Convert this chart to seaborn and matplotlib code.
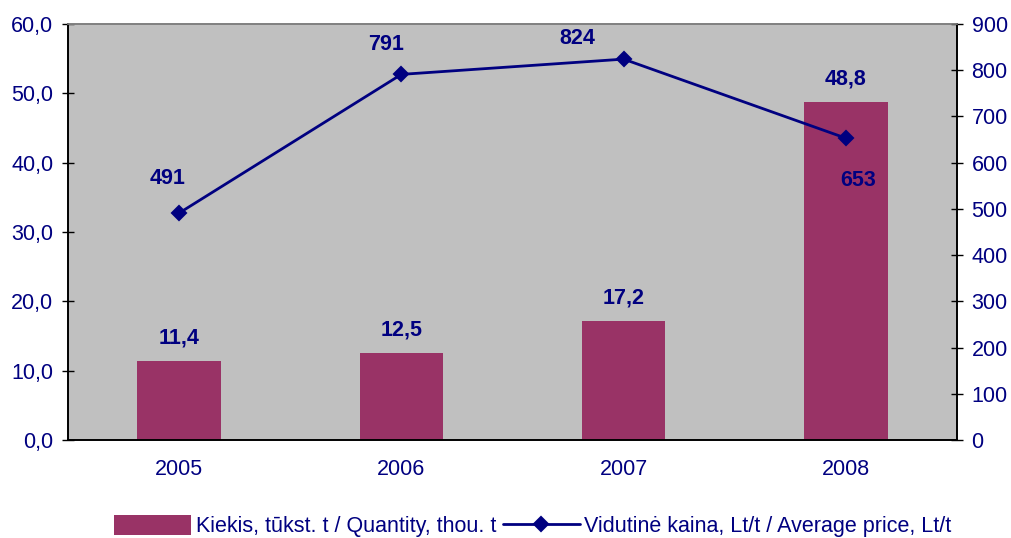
import matplotlib
matplotlib.use("Agg")
import matplotlib.pyplot as plt
import pandas as pd
import seaborn as sns
from matplotlib.ticker import FuncFormatter, MultipleLocator

# ---------- data ----------
years    = ["2005", "2006", "2007", "2008"]
quantity = [11.4, 12.5, 17.2, 48.8]      # thou. t
price    = [491, 791, 824, 653]          # Lt/t

qty_label   = "Kiekis, tūkst. t / Quantity, thou. t"
price_label = "Vidutinė kaina, Lt/t / Average price, Lt/t"

df = pd.DataFrame({"year": years, "quantity": quantity, "price": price})

# ---------- style ----------
NAVY = "#000080"
BAR  = "#993366"
GREY = "#C0C0C0"
FS   = 15.5

sns.set_style("white")
plt.rcParams["font.family"] = ["Liberation Sans", "DejaVu Sans"]
plt.rcParams["font.size"] = FS

fig, ax = plt.subplots(figsize=(10.11, 5.38), dpi=100)
fig.subplots_adjust(left=68 / 1011, right=957 / 1011, top=1 - 24 / 538, bottom=1 - 440 / 538)

ax.set_facecolor(GREY)
sns.barplot(data=df, x="year", y="quantity", color=BAR, width=0.375,
            saturation=1, linewidth=0, ax=ax, label=qty_label)
ax.set_ylim(0, 60)
ax.yaxis.set_major_locator(MultipleLocator(10))
ax.yaxis.set_major_formatter(FuncFormatter(lambda v, _: f"{v:.1f}".replace(".", ",")))
ax.set_xlabel("")
ax.set_ylabel("")
ax.set_xlim(-0.5, 3.5)

# bar labels
for i, q in enumerate(quantity):
    ax.annotate(f"{q:.1f}".replace(".", ","), (i, q), xytext=(0, 9),
                textcoords="offset points", ha="center", va="bottom",
                color=NAVY, fontweight="bold", fontsize=FS)

# price line on the right axis
ax2 = ax.twinx()
sns.pointplot(data=df, x="year", y="price", color=NAVY, markers="D",
              markersize=7, linewidth=2, ax=ax2, label=price_label)
ax2.set_ylim(0, 900)
ax2.set_xlim(-0.5, 3.5)
ax2.yaxis.set_major_locator(MultipleLocator(100))
ax2.set_ylabel("")
ax2.set_xlabel("")

label_offsets = [(-8, 17), (-11, 14), (-33, 7), (9, -23)]
for i, (p, off) in enumerate(zip(price, label_offsets)):
    ax2.annotate(str(p), (i, p), xytext=off, textcoords="offset points",
                 ha="center", va="bottom" if off[1] > 0 else "top",
                 color=NAVY, fontweight="bold", fontsize=FS)

# axes, ticks, spines
for a in (ax, ax2):
    for s in a.spines.values():
        s.set_color("black")
        s.set_linewidth(1.2)
    a.spines["top"].set_color("#808080")
    a.tick_params(colors="black", labelcolor=NAVY, labelsize=FS,
                  direction="inout", length=9, width=1)

ax.set_xticks([-0.5, 0.5, 1.5, 2.5, 3.5], minor=False)
ax.set_xticklabels([])
ax.set_xticks(range(len(years)), minor=True)
ax.set_xticklabels(years, minor=True)
ax.tick_params(axis="x", which="minor", length=0, pad=14, labelcolor=NAVY, labelsize=FS)
ax.tick_params(axis="x", which="major", length=11, direction="inout")
ax2.tick_params(axis="x", which="both", length=0, labelbottom=False)
ax.tick_params(axis="y", pad=6)
ax2.tick_params(axis="y", pad=6)

# legend at the bottom
h1, l1 = ax.get_legend_handles_labels()
h2, l2 = ax2.get_legend_handles_labels()
for a in (ax, ax2):
    if a.get_legend():
        a.get_legend().remove()
fig.legend(h1 + h2, l1 + l2, loc="lower center", bbox_to_anchor=(0.527, -0.035),
           ncol=2, frameon=False, fontsize=FS, labelcolor=NAVY,
           handlelength=3.6, handleheight=1.0, handletextpad=0.2, columnspacing=0.3)

plt.savefig("out.png", dpi=100)
plt.close()
